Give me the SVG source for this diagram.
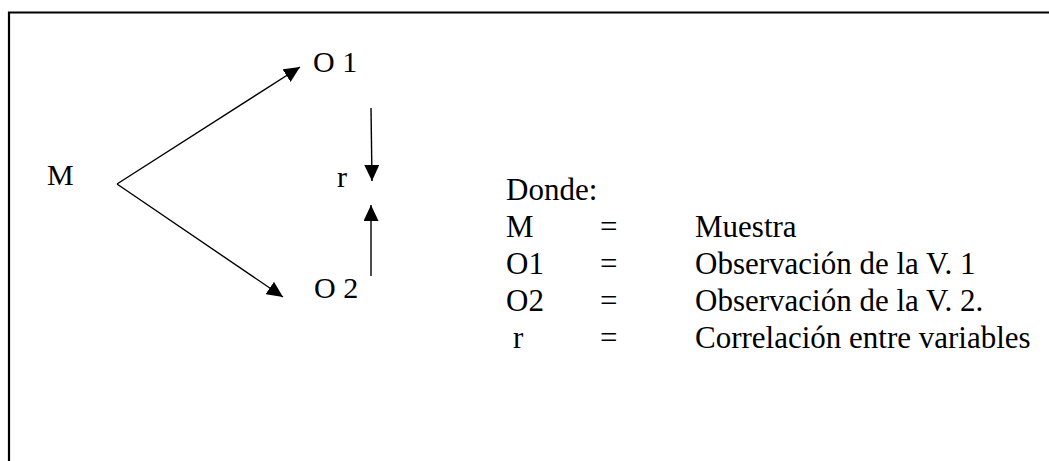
<svg xmlns="http://www.w3.org/2000/svg" width="1049" height="461" viewBox="0 0 1049 461">
  <style>
    text { font-family: "Liberation Serif", "Times New Roman", serif; fill: #000; }
    .d { font-size: 30px; }
    .l { font-size: 31px; }
    .c { stroke: #000; stroke-width: 1.4; fill: none; }
    .frame { stroke: #000; stroke-width: 2.2; fill: none; }
  </style>
  <defs>
    <marker id="ah" markerUnits="userSpaceOnUse" markerWidth="16" markerHeight="15" refX="16" refY="7.5" orient="auto">
      <path d="M0,0 L16,7.5 L0,15 z" fill="#000"/>
    </marker>
  </defs>
  <rect width="1049" height="461" fill="#fff"/>
  <path class="frame" d="M9,461 L9,12.5 L1049,12.5"/>

  <g id="connectors">
    <line class="c" x1="117" y1="184" x2="300" y2="67" marker-end="url(#ah)"/>
    <line class="c" x1="117" y1="184" x2="283" y2="297" marker-end="url(#ah)"/>
    <line class="c" x1="371" y1="108" x2="372" y2="181" marker-end="url(#ah)"/>
    <line class="c" x1="371" y1="276" x2="371" y2="205" marker-end="url(#ah)"/>
  </g>

  <g id="node-M"><text class="d" x="47" y="185">M</text></g>
  <g id="node-O1"><text class="d" x="313" y="72">O 1</text></g>
  <g id="node-O2"><text class="d" x="314" y="298">O 2</text></g>
  <g id="node-r"><text class="d" x="337" y="187">r</text></g>

  <g id="legend">
    <text class="l" x="506" y="200">Donde:</text>
    <text class="l" x="506" y="237">M</text>
    <text class="l" x="600" y="237">=</text>
    <text class="l" x="695" y="237">Muestra</text>
    <text class="l" x="506" y="274">O1</text>
    <text class="l" x="600" y="274">=</text>
    <text class="l" x="695" y="274">Observación de la V. 1</text>
    <text class="l" x="506" y="311">O2</text>
    <text class="l" x="600" y="311">=</text>
    <text class="l" x="695" y="311">Observación de la V. 2.</text>
    <text class="l" x="513" y="348">r</text>
    <text class="l" x="600" y="348">=</text>
    <text class="l" x="695" y="348">Correlación entre variables</text>
  </g>
</svg>
